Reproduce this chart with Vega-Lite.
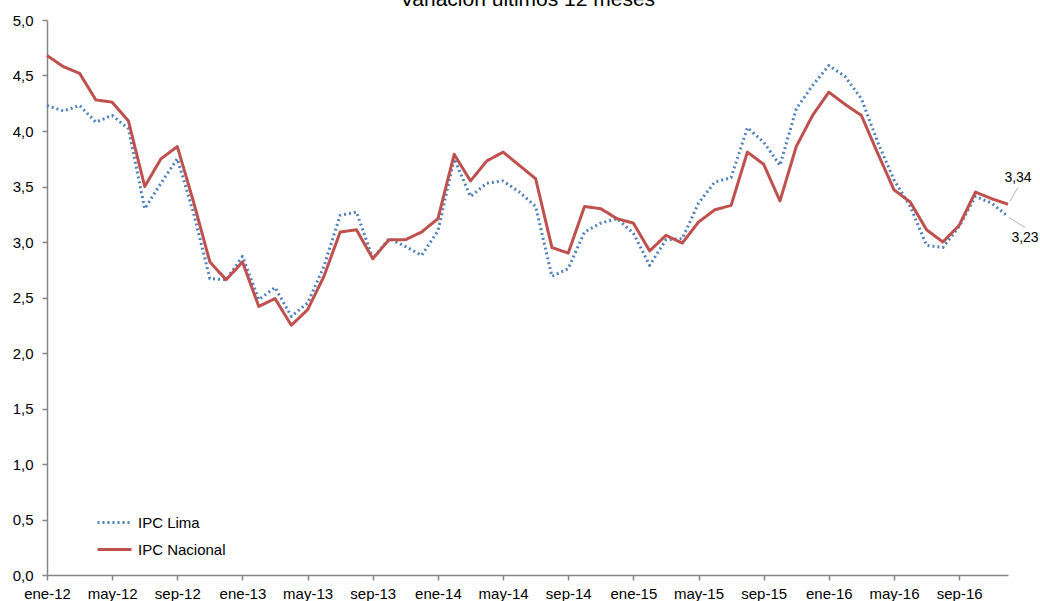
{
  "$schema": "https://vega.github.io/schema/vega-lite/v6.json",
  "width": 961,
  "height": 555,
  "autosize": {"type": "none"},
  "padding": {"left": 47, "top": 20, "right": 32, "bottom": 26},
  "title": {"text": "Variación últimos 12 meses", "fontSize": 21, "fontWeight": "normal", "font": "Liberation Sans", "anchor": "middle", "baseline": "bottom", "offset": 0, "dy": 18, "color": "#000000"},
  "config": {
    "view": {"stroke": null},
    "font": "Liberation Sans",
    "locale": {"number": {"decimal": ",", "thousands": ".", "grouping": [3], "currency": ["", " €"]}},
    "axis": {"domainColor": "#868686", "domainWidth": 1.5, "tickColor": "#868686", "tickWidth": 1.5, "tickSize": 5, "labelFontSize": 15, "labelColor": "#000000", "labelFont": "Liberation Sans", "grid": false, "title": null}
  },
  "datasets": {
    "series": [
      {"mes": "ene-12", "serie": "IPC Lima", "valor": 4.23}, {"mes": "feb-12", "serie": "IPC Lima", "valor": 4.18}, {"mes": "mar-12", "serie": "IPC Lima", "valor": 4.23}, {"mes": "abr-12", "serie": "IPC Lima", "valor": 4.08}, {"mes": "may-12", "serie": "IPC Lima", "valor": 4.14}, {"mes": "jun-12", "serie": "IPC Lima", "valor": 4.02}, {"mes": "jul-12", "serie": "IPC Lima", "valor": 3.30}, {"mes": "ago-12", "serie": "IPC Lima", "valor": 3.53}, {"mes": "sep-12", "serie": "IPC Lima", "valor": 3.75}, {"mes": "oct-12", "serie": "IPC Lima", "valor": 3.26}, {"mes": "nov-12", "serie": "IPC Lima", "valor": 2.67}, {"mes": "dic-12", "serie": "IPC Lima", "valor": 2.66},
      {"mes": "ene-13", "serie": "IPC Lima", "valor": 2.87}, {"mes": "feb-13", "serie": "IPC Lima", "valor": 2.48}, {"mes": "mar-13", "serie": "IPC Lima", "valor": 2.59}, {"mes": "abr-13", "serie": "IPC Lima", "valor": 2.33}, {"mes": "may-13", "serie": "IPC Lima", "valor": 2.45}, {"mes": "jun-13", "serie": "IPC Lima", "valor": 2.78}, {"mes": "jul-13", "serie": "IPC Lima", "valor": 3.24}, {"mes": "ago-13", "serie": "IPC Lima", "valor": 3.27}, {"mes": "sep-13", "serie": "IPC Lima", "valor": 2.85}, {"mes": "oct-13", "serie": "IPC Lima", "valor": 3.03}, {"mes": "nov-13", "serie": "IPC Lima", "valor": 2.96}, {"mes": "dic-13", "serie": "IPC Lima", "valor": 2.88},
      {"mes": "ene-14", "serie": "IPC Lima", "valor": 3.10}, {"mes": "feb-14", "serie": "IPC Lima", "valor": 3.75}, {"mes": "mar-14", "serie": "IPC Lima", "valor": 3.41}, {"mes": "abr-14", "serie": "IPC Lima", "valor": 3.53}, {"mes": "may-14", "serie": "IPC Lima", "valor": 3.55}, {"mes": "jun-14", "serie": "IPC Lima", "valor": 3.45}, {"mes": "jul-14", "serie": "IPC Lima", "valor": 3.32}, {"mes": "ago-14", "serie": "IPC Lima", "valor": 2.69}, {"mes": "sep-14", "serie": "IPC Lima", "valor": 2.76}, {"mes": "oct-14", "serie": "IPC Lima", "valor": 3.09}, {"mes": "nov-14", "serie": "IPC Lima", "valor": 3.17}, {"mes": "dic-14", "serie": "IPC Lima", "valor": 3.21},
      {"mes": "ene-15", "serie": "IPC Lima", "valor": 3.08}, {"mes": "feb-15", "serie": "IPC Lima", "valor": 2.79}, {"mes": "mar-15", "serie": "IPC Lima", "valor": 3.02}, {"mes": "abr-15", "serie": "IPC Lima", "valor": 3.03}, {"mes": "may-15", "serie": "IPC Lima", "valor": 3.35}, {"mes": "jun-15", "serie": "IPC Lima", "valor": 3.54}, {"mes": "jul-15", "serie": "IPC Lima", "valor": 3.58}, {"mes": "ago-15", "serie": "IPC Lima", "valor": 4.03}, {"mes": "sep-15", "serie": "IPC Lima", "valor": 3.90}, {"mes": "oct-15", "serie": "IPC Lima", "valor": 3.69}, {"mes": "nov-15", "serie": "IPC Lima", "valor": 4.20}, {"mes": "dic-15", "serie": "IPC Lima", "valor": 4.41},
      {"mes": "ene-16", "serie": "IPC Lima", "valor": 4.59}, {"mes": "feb-16", "serie": "IPC Lima", "valor": 4.49}, {"mes": "mar-16", "serie": "IPC Lima", "valor": 4.29}, {"mes": "abr-16", "serie": "IPC Lima", "valor": 3.90}, {"mes": "may-16", "serie": "IPC Lima", "valor": 3.56}, {"mes": "jun-16", "serie": "IPC Lima", "valor": 3.32}, {"mes": "jul-16", "serie": "IPC Lima", "valor": 2.97}, {"mes": "ago-16", "serie": "IPC Lima", "valor": 2.95}, {"mes": "sep-16", "serie": "IPC Lima", "valor": 3.14}, {"mes": "oct-16", "serie": "IPC Lima", "valor": 3.41}, {"mes": "nov-16", "serie": "IPC Lima", "valor": 3.35}, {"mes": "dic-16", "serie": "IPC Lima", "valor": 3.23},
      {"mes": "ene-12", "serie": "IPC Nacional", "valor": 4.68}, {"mes": "feb-12", "serie": "IPC Nacional", "valor": 4.58}, {"mes": "mar-12", "serie": "IPC Nacional", "valor": 4.52}, {"mes": "abr-12", "serie": "IPC Nacional", "valor": 4.28}, {"mes": "may-12", "serie": "IPC Nacional", "valor": 4.26}, {"mes": "jun-12", "serie": "IPC Nacional", "valor": 4.09}, {"mes": "jul-12", "serie": "IPC Nacional", "valor": 3.50}, {"mes": "ago-12", "serie": "IPC Nacional", "valor": 3.75}, {"mes": "sep-12", "serie": "IPC Nacional", "valor": 3.86}, {"mes": "oct-12", "serie": "IPC Nacional", "valor": 3.36}, {"mes": "nov-12", "serie": "IPC Nacional", "valor": 2.82}, {"mes": "dic-12", "serie": "IPC Nacional", "valor": 2.66},
      {"mes": "ene-13", "serie": "IPC Nacional", "valor": 2.82}, {"mes": "feb-13", "serie": "IPC Nacional", "valor": 2.42}, {"mes": "mar-13", "serie": "IPC Nacional", "valor": 2.49}, {"mes": "abr-13", "serie": "IPC Nacional", "valor": 2.25}, {"mes": "may-13", "serie": "IPC Nacional", "valor": 2.39}, {"mes": "jun-13", "serie": "IPC Nacional", "valor": 2.69}, {"mes": "jul-13", "serie": "IPC Nacional", "valor": 3.09}, {"mes": "ago-13", "serie": "IPC Nacional", "valor": 3.11}, {"mes": "sep-13", "serie": "IPC Nacional", "valor": 2.85}, {"mes": "oct-13", "serie": "IPC Nacional", "valor": 3.02}, {"mes": "nov-13", "serie": "IPC Nacional", "valor": 3.02}, {"mes": "dic-13", "serie": "IPC Nacional", "valor": 3.09},
      {"mes": "ene-14", "serie": "IPC Nacional", "valor": 3.21}, {"mes": "feb-14", "serie": "IPC Nacional", "valor": 3.79}, {"mes": "mar-14", "serie": "IPC Nacional", "valor": 3.55}, {"mes": "abr-14", "serie": "IPC Nacional", "valor": 3.73}, {"mes": "may-14", "serie": "IPC Nacional", "valor": 3.81}, {"mes": "jun-14", "serie": "IPC Nacional", "valor": 3.69}, {"mes": "jul-14", "serie": "IPC Nacional", "valor": 3.57}, {"mes": "ago-14", "serie": "IPC Nacional", "valor": 2.95}, {"mes": "sep-14", "serie": "IPC Nacional", "valor": 2.90}, {"mes": "oct-14", "serie": "IPC Nacional", "valor": 3.32}, {"mes": "nov-14", "serie": "IPC Nacional", "valor": 3.30}, {"mes": "dic-14", "serie": "IPC Nacional", "valor": 3.21},
      {"mes": "ene-15", "serie": "IPC Nacional", "valor": 3.17}, {"mes": "feb-15", "serie": "IPC Nacional", "valor": 2.92}, {"mes": "mar-15", "serie": "IPC Nacional", "valor": 3.06}, {"mes": "abr-15", "serie": "IPC Nacional", "valor": 2.99}, {"mes": "may-15", "serie": "IPC Nacional", "valor": 3.18}, {"mes": "jun-15", "serie": "IPC Nacional", "valor": 3.29}, {"mes": "jul-15", "serie": "IPC Nacional", "valor": 3.33}, {"mes": "ago-15", "serie": "IPC Nacional", "valor": 3.81}, {"mes": "sep-15", "serie": "IPC Nacional", "valor": 3.70}, {"mes": "oct-15", "serie": "IPC Nacional", "valor": 3.37}, {"mes": "nov-15", "serie": "IPC Nacional", "valor": 3.86}, {"mes": "dic-15", "serie": "IPC Nacional", "valor": 4.14},
      {"mes": "ene-16", "serie": "IPC Nacional", "valor": 4.35}, {"mes": "feb-16", "serie": "IPC Nacional", "valor": 4.24}, {"mes": "mar-16", "serie": "IPC Nacional", "valor": 4.14}, {"mes": "abr-16", "serie": "IPC Nacional", "valor": 3.80}, {"mes": "may-16", "serie": "IPC Nacional", "valor": 3.47}, {"mes": "jun-16", "serie": "IPC Nacional", "valor": 3.36}, {"mes": "jul-16", "serie": "IPC Nacional", "valor": 3.11}, {"mes": "ago-16", "serie": "IPC Nacional", "valor": 3.00}, {"mes": "sep-16", "serie": "IPC Nacional", "valor": 3.15}, {"mes": "oct-16", "serie": "IPC Nacional", "valor": 3.45}, {"mes": "nov-16", "serie": "IPC Nacional", "valor": 3.39}, {"mes": "dic-16", "serie": "IPC Nacional", "valor": 3.34}
    ]
  },
  "layer": [
    {
      "data": {"name": "series"},
      "mark": {"type": "line", "strokeWidth": 3, "strokeJoin": "round"},
      "encoding": {
        "x": {
          "field": "mes", "type": "ordinal", "sort": null,
          "scale": {"type": "point", "padding": 0, "domain": ["ene-12","feb-12","mar-12","abr-12","may-12","jun-12","jul-12","ago-12","sep-12","oct-12","nov-12","dic-12","ene-13","feb-13","mar-13","abr-13","may-13","jun-13","jul-13","ago-13","sep-13","oct-13","nov-13","dic-13","ene-14","feb-14","mar-14","abr-14","may-14","jun-14","jul-14","ago-14","sep-14","oct-14","nov-14","dic-14","ene-15","feb-15","mar-15","abr-15","may-15","jun-15","jul-15","ago-15","sep-15","oct-15","nov-15","dic-15","ene-16","feb-16","mar-16","abr-16","may-16","jun-16","jul-16","ago-16","sep-16","oct-16","nov-16","dic-16"]},
          "axis": {"values": ["ene-12","may-12","sep-12","ene-13","may-13","sep-13","ene-14","may-14","sep-14","ene-15","may-15","sep-15","ene-16","may-16","sep-16"], "labelAngle": 0, "labelPadding": 6, "labelOverlap": false}
        },
        "y": {
          "field": "valor", "type": "quantitative",
          "scale": {"domain": [0, 5], "nice": false, "zero": true},
          "axis": {"values": [0, 0.5, 1, 1.5, 2, 2.5, 3, 3.5, 4, 4.5, 5], "format": ".1f", "labelPadding": 9}
        },
        "color": {
          "field": "serie", "type": "nominal",
          "scale": {"domain": ["IPC Lima", "IPC Nacional"], "range": ["#4F81BD", "#C0504D"]},
          "legend": {"title": null, "orient": "none", "legendX": 49, "legendY": 484, "symbolType": "stroke", "symbolSize": 1156, "symbolStrokeWidth": 3, "labelFontSize": 15, "labelColor": "#000000", "labelOffset": 5, "rowPadding": -4}
        },
        "strokeDash": {
          "field": "serie", "type": "nominal",
          "scale": {"domain": ["IPC Lima", "IPC Nacional"], "range": [[2, 3], [1, 0]]},
          "legend": {"title": null, "orient": "none", "legendX": 49, "legendY": 484, "symbolType": "stroke", "symbolSize": 1156, "symbolStrokeWidth": 3, "labelFontSize": 15, "labelColor": "#000000", "labelOffset": 5, "rowPadding": -4}
        }
      }
    },
    {
      "data": {"values": [{"mes": "dic-16", "valor": 3.34}]},
      "mark": {"type": "rule", "color": "#a6a6a6", "strokeWidth": 0.8, "xOffset": 2, "yOffset": -3, "x2Offset": 10, "y2Offset": -17},
      "encoding": {
        "x": {"field": "mes", "type": "ordinal"},
        "x2": {"field": "mes"},
        "y": {"field": "valor", "type": "quantitative"},
        "y2": {"field": "valor"}
      }
    },
    {
      "data": {"values": [{"mes": "dic-16", "valor": 3.23}]},
      "mark": {"type": "rule", "color": "#a6a6a6", "strokeWidth": 0.8, "xOffset": 1, "yOffset": 1, "x2Offset": 17, "y2Offset": 11},
      "encoding": {
        "x": {"field": "mes", "type": "ordinal"},
        "x2": {"field": "mes"},
        "y": {"field": "valor", "type": "quantitative"},
        "y2": {"field": "valor"}
      }
    },
    {
      "data": {"values": [{"mes": "dic-16", "valor": 3.34}]},
      "mark": {"type": "text", "fontSize": 14, "color": "#000000", "dx": 10, "dy": -26, "align": "center", "baseline": "middle"},
      "encoding": {
        "x": {"field": "mes", "type": "ordinal"},
        "y": {"field": "valor", "type": "quantitative"},
        "text": {"field": "valor", "type": "quantitative", "format": ".2f"}
      }
    },
    {
      "data": {"values": [{"mes": "dic-16", "valor": 3.23}]},
      "mark": {"type": "text", "fontSize": 14, "color": "#000000", "dx": 17, "dy": 22, "align": "center", "baseline": "middle"},
      "encoding": {
        "x": {"field": "mes", "type": "ordinal"},
        "y": {"field": "valor", "type": "quantitative"},
        "text": {"field": "valor", "type": "quantitative", "format": ".2f"}
      }
    }
  ]
}
